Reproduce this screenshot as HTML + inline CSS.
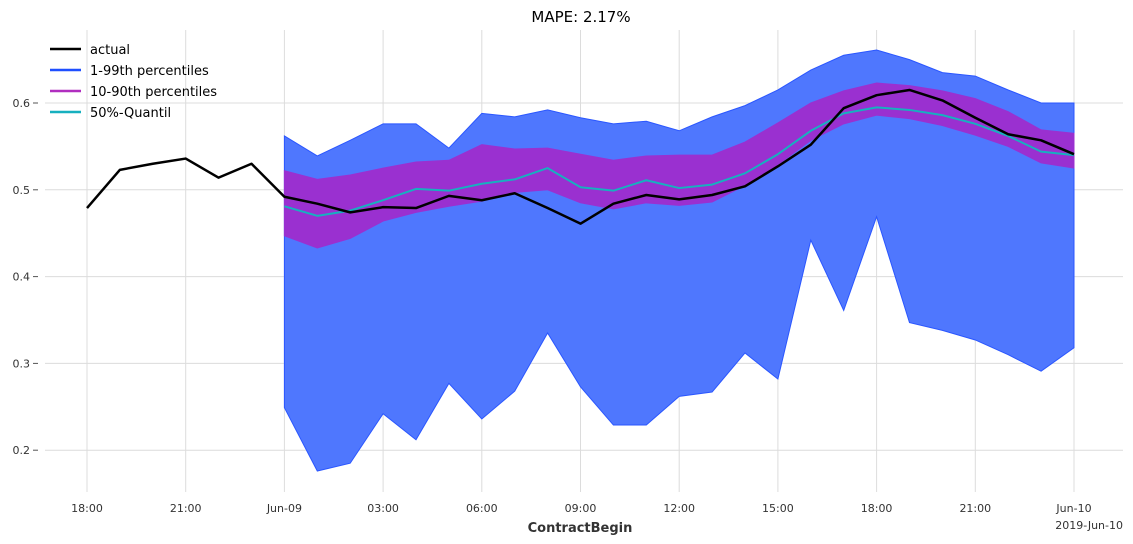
<!DOCTYPE html>
<html><head><meta charset="utf-8"><style>
body{margin:0;background:#fff;}
svg{display:block;font-family:"DejaVu Sans","Liberation Sans",sans-serif;}
</style></head><body>
<svg id="chart" width="1133" height="544" viewBox="0 0 1133 544" xmlns="http://www.w3.org/2000/svg">
<text x="581" y="22" text-anchor="middle" font-size="15" fill="#000">MAPE: 2.17%</text>
<g id="grid"></g>
<g id="bands"></g>
<g id="lines"></g>
<g id="axes"></g>
<text x="580" y="532" text-anchor="middle" font-size="13" font-weight="bold" fill="#333">ContractBegin</text>
<text x="1123" y="529" text-anchor="end" font-size="11" fill="#333">2019-Jun-10</text>
<g font-size="13" fill="#000">
<line x1="50" y1="49" x2="81" y2="49" stroke="#000" stroke-width="2.5"/><text x="90" y="54">actual</text>
<line x1="50" y1="70" x2="81" y2="70" stroke="#1f4fff" stroke-width="2.5"/><text x="90" y="75">1-99th percentiles</text>
<line x1="50" y1="91" x2="81" y2="91" stroke="#b02ebf" stroke-width="2.5"/><text x="90" y="96">10-90th percentiles</text>
<line x1="50" y1="112" x2="81" y2="112" stroke="#17b0bf" stroke-width="2.5"/><text x="90" y="117">50%-Quantil</text>
</g>
</svg>
<script>
const actual=[0.479,0.523,0.530,0.536,0.514,0.530,0.492,0.484,0.474,0.480,0.479,0.493,0.488,0.496,0.479,0.461,0.484,0.494,0.489,0.494,0.504,0.527,0.552,0.594,0.609,0.615,0.603,0.583,0.564,0.557,0.541];
const forecastStart=6;
const p99=[0.562,0.539,0.557,0.576,0.576,0.548,0.588,0.584,0.592,0.583,0.576,0.579,0.568,0.584,0.597,0.615,0.638,0.655,0.661,0.650,0.635,0.631,0.615,0.600,0.600];
const p01=[0.249,0.176,0.185,0.242,0.212,0.277,0.236,0.268,0.335,0.273,0.229,0.229,0.262,0.267,0.312,0.282,0.442,0.361,0.469,0.347,0.338,0.327,0.310,0.291,0.318];
const p90=[0.522,0.512,0.517,0.525,0.532,0.534,0.552,0.547,0.548,0.541,0.534,0.539,0.540,0.540,0.555,0.577,0.600,0.614,0.623,0.620,0.614,0.605,0.590,0.569,0.565];
const p10=[0.447,0.433,0.444,0.464,0.474,0.481,0.487,0.497,0.500,0.485,0.478,0.485,0.482,0.486,0.505,0.529,0.557,0.576,0.586,0.582,0.574,0.563,0.550,0.531,0.525];
const p50=[0.481,0.470,0.476,0.488,0.501,0.499,0.507,0.512,0.525,0.503,0.499,0.511,0.502,0.506,0.519,0.541,0.568,0.588,0.595,0.592,0.586,0.576,0.562,0.544,0.540];
const xTickLabels=["18:00","21:00","Jun-09","03:00","06:00","09:00","12:00","15:00","18:00","21:00","Jun-10"];
const xTickIdx=[0,3,6,9,12,15,18,21,24,27,30];
const yTicks=[0.2,0.3,0.4,0.5,0.6];

const NS="http://www.w3.org/2000/svg";
const x=i=>87+i*32.9;
const y=v=>103+(0.6-v)*868;
function mk(parent,tag,attrs){const e=document.createElementNS(NS,tag);for(const k in attrs)e.setAttribute(k,attrs[k]);document.getElementById(parent).appendChild(e);return e;}

yTicks.forEach(t=>{
  const g=mk('grid','line',{x1:45,x2:1123,y1:y(t),y2:y(t),stroke:'#dcdcdc','stroke-width':1});
  
  
  const tk=mk('axes','line',{x1:33,x2:38,y1:y(t),y2:y(t),stroke:'#555'});
  
  
  const lb=mk('axes','text',{x:30,y:y(t)+4,'text-anchor':'end','font-size':11,fill:'#333'});
  lb.textContent=t.toFixed(1);
  
  
});
xTickIdx.forEach((i,k)=>{
  const g=mk('grid','line',{x1:x(i),x2:x(i),y1:30,y2:492,stroke:'#dcdcdc','stroke-width':1});
  
  
  const lb=mk('axes','text',{x:x(i),y:512,'text-anchor':'middle','font-size':11,fill:'#333'});
  lb.textContent=xTickLabels[k];
  
  
});
function band(lo,hi,fill,stroke,name){
  let pts=hi.map((v,j)=>x(j+forecastStart)+','+y(v));
  pts=pts.concat(lo.map((v,j)=>x(j+forecastStart)+','+y(v)).reverse());
  const p=mk('bands','polygon',{points:pts.join(' '),fill:fill,stroke:stroke,'stroke-width':1});
  
  
}
band(p01,p99,'#4f77fe','#2a56ff','band-1-99');
band(p10,p90,'#9a30d0','#9a30d0','band-10-90');
function line(vals,off,color,w,name){
  const pts=vals.map((v,j)=>x(j+off)+','+y(v)).join(' ');
  const p=mk('lines','polyline',{points:pts,fill:'none',stroke:color,'stroke-width':w,'stroke-linejoin':'round'});
  
  
}
line(p50,forecastStart,'#17b0bf',2,'median-line');
line(actual,0,'#000',2.5,'actual-line');
</script>
</body></html>
